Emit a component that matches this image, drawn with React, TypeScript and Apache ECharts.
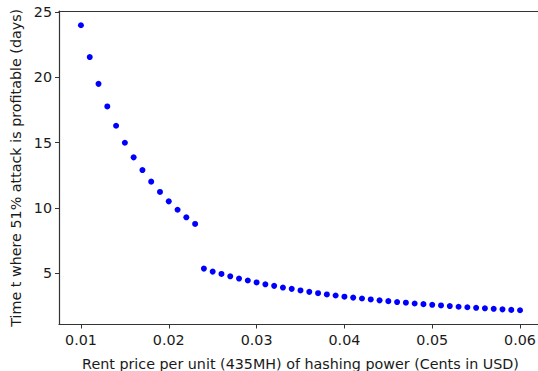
import React, { useEffect, useRef } from "react";
import * as echarts from "echarts";

const seg1X = [0.010, 0.011, 0.012, 0.013, 0.014, 0.015, 0.016, 0.017, 0.018, 0.019, 0.020, 0.021, 0.022, 0.023];
const seg1Y = [24.0, 21.56, 19.51, 17.78, 16.3, 15.0, 13.88, 12.91, 12.02, 11.23, 10.51, 9.87, 9.29, 8.78];
const seg2X = [0.024, 0.025, 0.026, 0.027, 0.028, 0.029, 0.030, 0.031, 0.032, 0.033, 0.034, 0.035, 0.036, 0.037, 0.038, 0.039, 0.040, 0.041, 0.042, 0.043, 0.044, 0.045, 0.046, 0.047, 0.048, 0.049, 0.050, 0.051, 0.052, 0.053, 0.054, 0.055, 0.056, 0.057, 0.058, 0.059, 0.060];
const seg2Y = [5.36, 5.13, 4.95, 4.77, 4.6, 4.45, 4.3, 4.16, 4.04, 3.91, 3.81, 3.69, 3.58, 3.48, 3.38, 3.3, 3.21, 3.14, 3.07, 3.0, 2.93, 2.87, 2.8, 2.75, 2.69, 2.64, 2.59, 2.54, 2.49, 2.44, 2.4, 2.36, 2.32, 2.28, 2.24, 2.2, 2.17];
const xTicks = [0.01, 0.02, 0.03, 0.04, 0.05, 0.06];
const yTicks = [5, 10, 15, 20, 25];
const xName = "Rent price per unit (435MH) of hashing power (Cents in USD)";
const yName = "Time t where 51% attack is profitable (days)";

export default function App() {
  const ref = useRef<HTMLDivElement>(null);
  useEffect(() => {
    if (!ref.current) return;
    const chart = echarts.init(ref.current, null, { renderer: "svg" });
    const data = [...seg1X.map((x, i) => [x, seg1Y[i]]), ...seg2X.map((x, i) => [x, seg2Y[i]])];
    const font = "DejaVu Sans";
    const fs = 14.3;
    const txt = "#1a1a1a";
    chart.setOption({
      animation: false,
      backgroundColor: "#ffffff",
      grid: { left: 59, top: 11, right: -4, bottom: 46.5, containLabel: false, outerBoundsMode: "none" },
      xAxis: [
        {
          type: "value",
          min: 0.0075,
          max: 0.0625,
          name: xName,
          nameLocation: "middle",
          nameGap: 32,
          nameTextStyle: { fontFamily: font, fontSize: fs, color: txt },
          axisLine: { show: true, lineStyle: { color: "#333", width: 1.2 } },
          axisTick: { show: true, length: 4, customValues: xTicks, lineStyle: { color: "#333", width: 1 } },
          axisLabel: { customValues: xTicks, fontFamily: font, fontSize: fs, color: txt, margin: 8, formatter: (v: number) => v.toFixed(2) },
          splitLine: { show: false },
        },
        {
          type: "value",
          position: "top",
          min: 0.0075,
          max: 0.0625,
          axisLine: { show: true, lineStyle: { color: "#333", width: 1.2 } },
          axisTick: { show: false },
          axisLabel: { show: false },
          splitLine: { show: false },
        },
      ],
      yAxis: {
        type: "value",
        min: 1.08,
        max: 25.09,
        name: yName,
        nameLocation: "middle",
        nameGap: 35,
        nameTextStyle: { fontFamily: font, fontSize: fs, color: txt },
        axisLine: { show: true, lineStyle: { color: "#333", width: 1.2 } },
        axisTick: { show: true, length: 4, customValues: yTicks, lineStyle: { color: "#333", width: 1 } },
        axisLabel: { customValues: yTicks, fontFamily: font, fontSize: fs, color: txt, margin: 7 },
        splitLine: { show: false },
      },
      series: [
        {
          type: "scatter",
          data,
          symbol: "circle",
          symbolSize: 6,
          itemStyle: { color: "#0000ff", opacity: 1 },
        },
      ],
    });
    return () => chart.dispose();
  }, []);
  return <div ref={ref} style={{ width: 538, height: 371, position: "absolute", left: 0, top: 0 }} />;
}
